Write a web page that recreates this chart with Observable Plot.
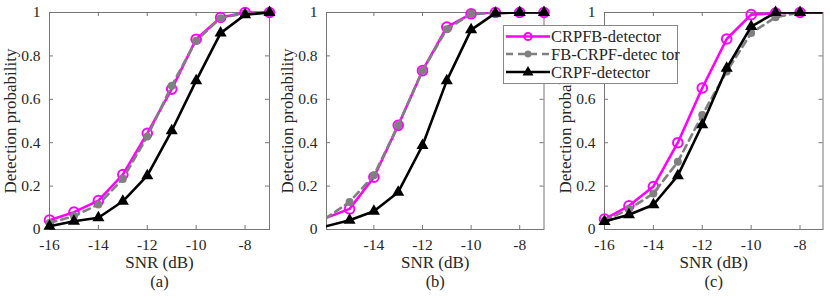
<!DOCTYPE html>
<html><head><meta charset="utf-8">
<script src="https://cdn.jsdelivr.net/npm/d3@7"></script>
<script src="https://cdn.jsdelivr.net/npm/@observablehq/plot@0.6"></script>
<style>
body{margin:0;background:#fff;}
#wrap{position:relative;width:830px;height:297px;overflow:hidden;background:#fff;font-family:"Liberation Serif",serif;}
#wrap > svg{position:absolute;top:0;overflow:visible;background:transparent;}
#wrap text{font-family:"Liberation Serif",serif !important;}
</style></head><body><div id="wrap"></div>
<script>
// ---- data ----
const snr = [-16, -15, -14, -13, -12, -11, -10, -9, -8, -7];
const seriesNames = ["CRPFB-detector", "FB-CRPF-detec tor", "CRPF-detector"];
const yTicks = [0, 0.2, 0.4, 0.6, 0.8, 1];
const xTicksA = [-16, -14, -12, -10, -8];
const xTicksB = [-14, -12, -10, -8];
const xTicksC = [-16, -14, -12, -10, -8];
const captions = ["(a)", "(b)", "(c)"];

const aCRPFB = [0.043, 0.080, 0.133, 0.253, 0.443, 0.647, 0.877, 0.977, 1.000, 1.000];
const aFB    = [0.030, 0.062, 0.115, 0.233, 0.428, 0.663, 0.870, 0.974, 0.997, 1.000];
const aCRPF  = [0.015, 0.038, 0.054, 0.130, 0.248, 0.455, 0.686, 0.905, 0.990, 1.000];

const bCRPFB = [0.052, 0.095, 0.241, 0.480, 0.732, 0.933, 0.994, 1.000, 1.000, 1.000];
const bFB    = [0.050, 0.127, 0.250, 0.480, 0.732, 0.923, 0.994, 0.997, 1.000, 1.000];
const bCRPF  = [0.014, 0.043, 0.084, 0.172, 0.387, 0.686, 0.920, 0.997, 1.000, 1.000];

const cCRPFB = [0.048, 0.109, 0.198, 0.400, 0.652, 0.878, 0.990, 0.997, 1.000, 1.000];
const cFB    = [0.040, 0.094, 0.166, 0.312, 0.528, 0.728, 0.905, 0.978, 1.000, 1.000];
const cCRPF  = [0.037, 0.068, 0.114, 0.248, 0.483, 0.743, 0.935, 1.000, 1.000, 1.000];

// ---- styles ----
const FONT = '"Liberation Serif", serif';
const AX = "#777";
const TXT = "#262626";
const styles = [
  {stroke: "#ff00ff", dash: null, symbol: "circle", fill: "none", r: 4.8, sw: 2},
  {stroke: "#808080", dash: "7,5", symbol: "circle", fill: "#808080", r: 4, sw: 0},
  {stroke: "#000000", dash: null, symbol: "triangle", fill: "#000000", r: 4.5, sw: 0}
];

function rows(vals) { return snr.map((x, i) => ({x, y: vals[i]})); }

function panel({series, domain, ticks, caption, left, ml, plotW, mr}) {
  const H = 297, mt = 12, mb = 68, plotH = H - mt - mb;
  const marks = [
    Plot.frame({stroke: AX, strokeWidth: 1}),
    Plot.tickX(ticks, {x: d => d, insetTop: plotH - 4, stroke: AX}),
    Plot.tickX(ticks, {x: d => d, insetBottom: plotH - 4, stroke: AX}),
    Plot.tickY(yTicks, {y: d => d, insetRight: plotW - 4, stroke: AX}),
    Plot.tickY(yTicks, {y: d => d, insetLeft: plotW - 4, stroke: AX}),
    Plot.axisX({ticks, tickSize: 0, tickPadding: 9, tickFormat: d => "-" + Math.abs(d), label: null, fill: TXT, fontSize: 15.5}),
    Plot.axisY({ticks: yTicks, tickSize: 0, tickPadding: 9, tickFormat: d => (d === 0 || d === 1) ? String(d) : d.toFixed(1), label: null, fill: TXT, fontSize: 15.5}),
    Plot.text(["SNR (dB)"], {frameAnchor: "bottom", textAnchor: "middle", dy: 38.5, fontSize: 17, fill: TXT}),
    Plot.text([caption], {frameAnchor: "bottom", textAnchor: "middle", dy: 57, fontSize: 16.5, fill: TXT}),
    Plot.text(["Detection probability"], {frameAnchor: "left", textAnchor: "middle", dx: -39, rotate: -90, fontSize: 17, fill: TXT})
  ];
  series.forEach((vals, k) => {
    const s = styles[k];
    const data = rows(vals);
    const needClip = data.some(d => d.x < domain[0] || d.x > domain[1]);
    marks.push(Plot.line(data, {x: "x", y: "y", stroke: s.stroke, strokeWidth: 2.6, strokeDasharray: s.dash, clip: needClip}));
    marks.push(Plot.dot(data.filter(d => d.x >= domain[0] && d.x <= domain[1]), {
      x: "x", y: "y", symbol: s.symbol, r: s.r, fill: s.fill, stroke: s.sw ? s.stroke : "none", strokeWidth: s.sw
    }));
  });
  const svg = Plot.plot({
    width: ml + plotW + mr, height: H,
    marginLeft: ml, marginRight: mr, marginTop: mt, marginBottom: mb,
    style: {fontFamily: FONT, fontSize: "16px", background: "transparent", overflow: "visible"},
    x: {domain}, y: {domain: [0, 1]},
    marks
  });
  svg.style.left = left + "px";
  return svg;
}

const wrap = document.getElementById("wrap");
wrap.appendChild(panel({series: [aCRPFB, aFB, aCRPF], domain: [-16, -7], ticks: xTicksA, caption: captions[0], left: 0, ml: 49, plotW: 220, mr: 12}));
wrap.appendChild(panel({series: [bCRPFB, bFB, bCRPF], domain: [-15.95, -7], ticks: xTicksB, caption: captions[1], left: 285, ml: 41, plotW: 217.5, mr: 12}));
wrap.appendChild(panel({series: [cCRPFB, cFB, cCRPF], domain: [-16, -7.06], ticks: xTicksC, caption: captions[2], left: 563, ml: 41, plotW: 218.5, mr: 7.5}));

// ---- legend ----
const NS = "http://www.w3.org/2000/svg";
const lg = document.createElementNS(NS, "svg");
lg.setAttribute("width", 175); lg.setAttribute("height", 59);
lg.style.position = "absolute"; lg.style.left = "503px"; lg.style.top = "25px";
function el(tag, attrs, parent) { const e = document.createElementNS(NS, tag); for (const k in attrs) e.setAttribute(k, attrs[k]); parent.appendChild(e); return e; }
el("rect", {x: 0.5, y: 0.5, width: 174, height: 58, fill: "#fff", stroke: "#888", "stroke-width": 1}, lg);
const rowY = [11.5, 29, 47];
seriesNames.forEach((name, k) => {
  const s = styles[k], y = rowY[k];
  const ln = el("line", {x1: 3, x2: 47, y1: y, y2: y, stroke: s.stroke, "stroke-width": 2.6}, lg);
  if (s.dash) ln.setAttribute("stroke-dasharray", "7,5");
  if (s.symbol === "circle") {
    el("circle", {cx: 25, cy: y, r: k === 0 ? 3.6 : 3.4, fill: s.fill, stroke: s.sw ? s.stroke : "none", "stroke-width": s.sw}, lg);
  } else {
    el("path", {d: `M25,${y - 6}L30.5,${y + 3.5}L19.5,${y + 3.5}Z`, fill: "#000"}, lg);
  }
  const t = el("text", {x: 48, y: y, "dominant-baseline": "central", "font-size": 16.5, fill: TXT}, lg);
  t.textContent = name;
});
wrap.appendChild(lg);
</script>
</body></html>
